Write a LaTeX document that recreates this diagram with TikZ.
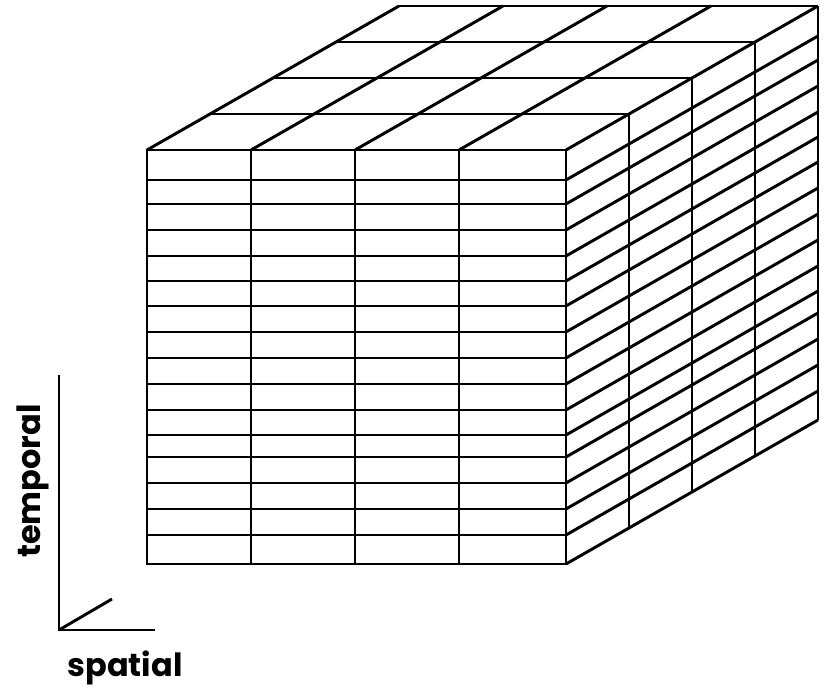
\documentclass[tikz,border=0pt]{standalone}
\usepackage{fontspec}
\setmainfont{Poppins}
\usepackage{tikz}
\usetikzlibrary{positioning}

\begin{document}
\begin{tikzpicture}[x=0.75pt,y=-0.75pt,line width=2.2pt]
    \useasboundingbox (0,0) rectangle (828,688);

    % Front face
    \draw (147,150) rectangle (566,564);
    \foreach \x in {251,355,459}
        \draw (\x,150) -- (\x,564);
    \foreach \y in {180,204,230,256,281,306,332,358,384,410,435,457,483,509,535}
        \draw (147,\y) -- (566,\y);

    % Top face
    \foreach \x in {147,251,355,459,566}
        \draw (\x,150) -- ++(252,-144);
    \foreach \k in {1,2,3,4}
        \draw (147+63*\k,150-36*\k) -- (566+63*\k,150-36*\k);

    % Right face
    \foreach \k in {1,2,3,4}
        \draw (566+63*\k,150-36*\k) -- (566+63*\k,564-36*\k);
    \foreach \y in {180,204,230,256,281,306,332,358,384,410,435,457,483,509,535,564}
        \draw (566,\y) -- ++(252,-144);

    % Axes
    \draw (59,375) -- (59,630) -- (155,630);
    \draw (59,630) -- (112,599);
    \node[rotate=90, font=\fontsize{24}{28}\selectfont\bfseries] (temporal) at (33,481) {temporal};
    \node[font=\fontsize{24}{28}\selectfont\bfseries] (spatial) at (125,668) {spatial};
\end{tikzpicture}
\end{document}
